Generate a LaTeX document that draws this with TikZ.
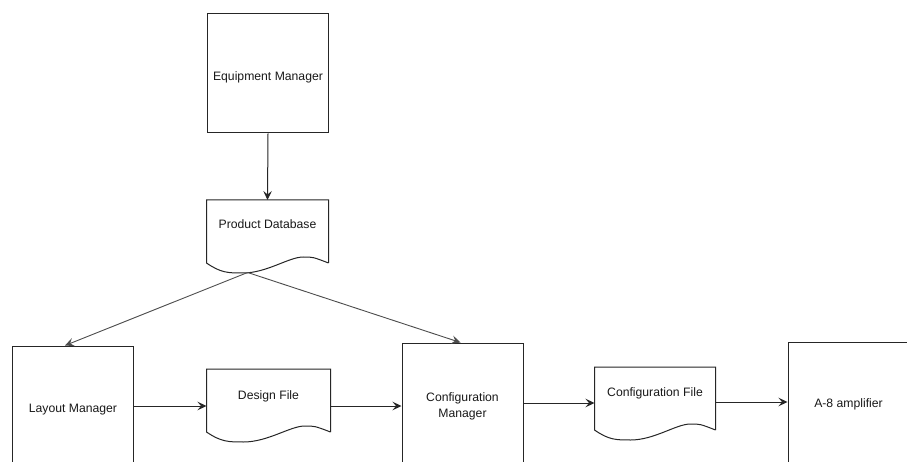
\documentclass[tikz,border=0pt]{standalone}
\usepackage{fontspec}
\setmainfont{Liberation Sans}
\usetikzlibrary{arrows.meta,calc}
\begin{document}
\begin{tikzpicture}[x=1pt,y=-1pt,
  line width=1pt, draw=black!85,
  every node/.style={font=\fontsize{12.2}{16}\selectfont, inner sep=0pt, text=black!90},
  procbox/.style={draw=black!85, minimum width=121pt, minimum height=120pt, align=center},
  docbox/.style={minimum width=#1pt, minimum height=62pt, align=center},
  tpos/.style 2 args={text height=#1pt, text depth=#2pt},
  arr/.style={-{Stealth[length=9pt,width=8.5pt,inset=3.5pt]}},
  link/.style={draw=black!70, line width=0.9pt}]
\clip (0,0) rectangle (907,462);
\fill[white] (0,0) rectangle (907,462);

% processes
\node[procbox, minimum height=119pt, tpos={16.4}{2.6}] (em) at (268,73.5) {Equipment Manager};
\node[procbox, tpos={15.4}{2.6}] (lm) at (73,406) {Layout Manager};
\node[procbox, tpos={31.4}{2.6}] (cm) at (462.5,403) {Configuration\\Manager};
\node[procbox, tpos={13.4}{2.6}] (amp) at (848.5,402) {A-8 amplifier};

% documents
\node[docbox=121, tpos={8.9}{15.1}] (pdb) at (267.5,231.5) {Product Database};
\node[docbox=123, tpos={8.9}{11.1}] (dfile) at (268.5,400.5) {Design File};
\node[docbox=120, tpos={8.9}{13.1}] (cfile) at (655,398.5) {Configuration File};

% document outlines with a wavy lower edge
\foreach \n/\w in {pdb/121,dfile/123,cfile/120}{
  \draw (\n.south east) -- (\n.north east) -- (\n.north west) -- (\n.south west)
    .. controls +(0.12*\w,10) and +(-0.12*\w,0) .. ($(\n.south west)+(0.3*\w,10)$)
    .. controls +(0.2*\w,0) and +(-0.12*\w,0) .. ($(\n.south west)+(0.8*\w,-6)$)
    .. controls +(0.08*\w,0) .. (\n.south east);
}
\coordinate (pdbtip) at ($(pdb.south west)+(0.34*121,9.5)$);

% connectors
\draw[arr] (em.south) -- (pdb.north);
\draw[arr, link] (pdbtip) -- ($(lm.north)+(-8,0)$);
\draw[arr, link] (pdbtip) -- ($(cm.north)+(-2,0)$);
\draw[arr] (lm.east) -- (lm.east -| dfile.west);
\draw[arr] (dfile.east |- lm.east) -- (cm.west |- lm.east);
\draw[arr] (cm.east) -- (cm.east -| cfile.west);
\draw[arr] (cfile.east |- amp.west) -- (amp.west);
\end{tikzpicture}
\end{document}
